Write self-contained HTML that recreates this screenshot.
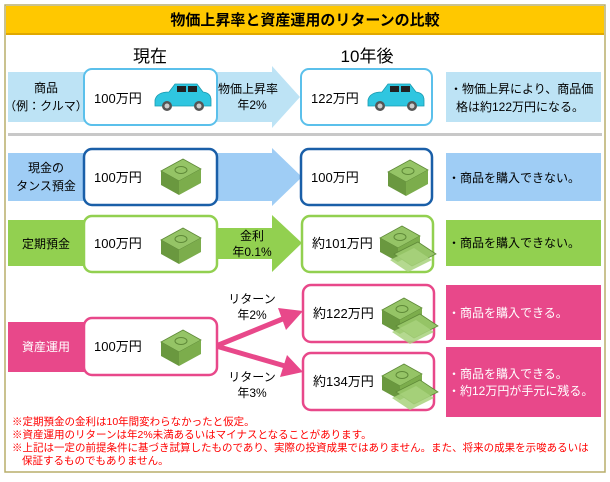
<!DOCTYPE html><html><head><meta charset="utf-8"><style>
body{margin:0;background:#fff;}
svg text{font-family:"Liberation Sans","Noto Sans CJK JP",sans-serif;}
</style></head><body>
<svg width="610" height="477" viewBox="0 0 610 477" xmlns="http://www.w3.org/2000/svg">
<defs>
<g id="money">
<polygon points="0,14 22,2 40,12 18,24" fill="#95c466" stroke="#5f8a38" stroke-width="0.8"/>
<polygon points="0,14 18,24 18,38 0,28" fill="#6a983f"/>
<polygon points="18,24 40,12 40,26 18,38" fill="#7cad4c"/>
<ellipse cx="20" cy="13" rx="6" ry="3.5" fill="none" stroke="#5f8a38"/>
</g>
<g id="money2">
<use href="#money"/>
<polygon points="14,30 38,18 56,30 32,42" fill="#95c466" stroke="#5f8a38" stroke-width="0.8"/>
<polygon points="10,36 34,24 52,36 28,48" fill="#a8d27c" opacity="0.85"/>
</g>
<g id="car">
<path d="M2,16 Q4,8 16,8 L22,0 L44,0 L50,8 Q58,9 58,16 L58,22 L2,22 Z" fill="#2fc6e0" stroke="#1a9ab0" stroke-width="0.8"/>
<rect x="24" y="2" width="9" height="6" fill="#222"/><rect x="35" y="2" width="9" height="6" fill="#222"/>
<circle cx="14" cy="22" r="5" fill="#555"/><circle cx="14" cy="22" r="2.5" fill="#ccc"/>
<circle cx="46" cy="22" r="5" fill="#555"/><circle cx="46" cy="22" r="2.5" fill="#ccc"/>
</g>
</defs>
<rect x="5" y="5" width="600" height="467" fill="#fff" stroke="#b8ad6a" stroke-width="1.5"/>
<rect x="6" y="6" width="598" height="28" fill="#ffc800"/>
<rect x="6" y="33" width="598" height="2" fill="#e0a800"/>
<text x="305" y="25" font-size="15" font-weight="bold" text-anchor="middle">物価上昇率と資産運用のリターンの比較</text>
<text x="150" y="62" font-size="17" text-anchor="middle">現在</text>
<text x="367" y="62" font-size="17" text-anchor="middle">10年後</text>

<rect x="8" y="72" width="78" height="50" fill="#bde3f5"/>
<text x="46" y="92" font-size="12" text-anchor="middle">商品</text>
<text x="46" y="110" font-size="12" text-anchor="middle">（例：クルマ）</text>
<polygon points="216,72 272,72 272,66 300,97 272,128 272,122 216,122" fill="#bde3f5"/>
<text x="248" y="93" font-size="12" text-anchor="middle">物価上昇率</text>
<text x="252" y="109" font-size="12" text-anchor="middle">年2%</text>
<rect x="84" y="69" width="133" height="56" rx="8" fill="#fff" stroke="#5bc0eb" stroke-width="2"/>
<text x="94" y="103" font-size="13">100万円</text>
<use href="#car" x="153" y="84"/>
<rect x="301" y="69" width="131" height="56" rx="8" fill="#fff" stroke="#5bc0eb" stroke-width="2"/>
<text x="311" y="103" font-size="13">122万円</text>
<use href="#car" x="366" y="84"/>
<rect x="446" y="72" width="155" height="50" fill="#bde3f5"/>
<text x="450" y="93" font-size="12">・物価上昇により、商品価</text>
<text x="456" y="111" font-size="12">格は約122万円になる。</text>
<rect x="8" y="133" width="594" height="3" fill="#c8c8c8"/>

<rect x="8" y="153" width="78" height="48" fill="#9fcdf5"/>
<text x="46" y="172" font-size="12" text-anchor="middle">現金の</text>
<text x="46" y="190" font-size="12" text-anchor="middle">タンス預金</text>
<polygon points="216,153 272,153 272,148 302,177 272,206 272,201 216,201" fill="#9fcdf5"/>
<rect x="84" y="149" width="133" height="56" rx="8" fill="#fff" stroke="#1a5fa8" stroke-width="2.5"/>
<text x="94" y="182" font-size="13">100万円</text>
<use href="#money" x="161" y="157"/>
<rect x="301" y="149" width="131" height="56" rx="8" fill="#fff" stroke="#1a5fa8" stroke-width="2.5"/>
<text x="311" y="182" font-size="13">100万円</text>
<use href="#money" x="388" y="158"/>
<rect x="446" y="153" width="155" height="48" fill="#9fcdf5"/>
<text x="448" y="182" font-size="12">・商品を購入できない。</text>

<rect x="8" y="220" width="78" height="46" fill="#92d050"/>
<text x="46" y="248" font-size="12" text-anchor="middle">定期預金</text>
<polygon points="216,228 272,228 272,215 302,243 272,272 272,259 216,259" fill="#92d050"/>
<text x="252" y="240" font-size="12" text-anchor="middle">金利</text>
<text x="252" y="256" font-size="12" text-anchor="middle">年0.1%</text>
<rect x="84" y="216" width="133" height="56" rx="8" fill="#fff" stroke="#92d050" stroke-width="2.5"/>
<text x="94" y="248" font-size="13">100万円</text>
<use href="#money" x="161" y="226"/>
<rect x="302" y="216" width="131" height="56" rx="8" fill="#fff" stroke="#92d050" stroke-width="2.5"/>
<text x="312" y="248" font-size="13">約101万円</text>
<use href="#money2" x="380" y="224"/>
<rect x="446" y="220" width="155" height="46" fill="#92d050"/>
<text x="448" y="247" font-size="12">・商品を購入できない。</text>

<rect x="8" y="322" width="78" height="50" fill="#e8488a"/>
<text x="46" y="351" font-size="12" fill="#fff" text-anchor="middle">資産運用</text>
<line x1="216" y1="346" x2="285" y2="318" stroke="#e8488a" stroke-width="5"/>
<polygon points="303,311 278,308 286,330" fill="#e8488a"/>
<line x1="216" y1="346" x2="285" y2="366" stroke="#e8488a" stroke-width="5"/>
<polygon points="303,372 287,355 280,377" fill="#e8488a"/>
<text x="252" y="303" font-size="12" text-anchor="middle">リターン</text>
<text x="252" y="319" font-size="12" text-anchor="middle">年2%</text>
<text x="252" y="381" font-size="12" text-anchor="middle">リターン</text>
<text x="252" y="397" font-size="12" text-anchor="middle">年3%</text>
<rect x="84" y="318" width="133" height="57" rx="8" fill="#fff" stroke="#e8488a" stroke-width="2.5"/>
<text x="94" y="351" font-size="13">100万円</text>
<use href="#money" x="161" y="328"/>
<rect x="303" y="285" width="131" height="57" rx="8" fill="#fff" stroke="#e8488a" stroke-width="2.5"/>
<text x="313" y="318" font-size="13">約122万円</text>
<rect x="303" y="353" width="131" height="57" rx="8" fill="#fff" stroke="#e8488a" stroke-width="2.5"/>
<text x="313" y="386" font-size="13">約134万円</text>
<rect x="446" y="285" width="155" height="55" fill="#e8488a"/>
<text x="448" y="317" font-size="12" fill="#fff">・商品を購入できる。</text>
<rect x="446" y="347" width="155" height="70" fill="#e8488a"/>
<text x="448" y="378" font-size="12" fill="#fff">・商品を購入できる。</text>
<text x="448" y="395" font-size="12" fill="#fff">・約12万円が手元に残る。</text>
<use href="#money2" x="382" y="296"/>
<use href="#money2" x="382" y="362"/>

<g font-size="10.5" fill="#ff0000">
<text x="12" y="425">※定期預金の金利は10年間変わらなかったと仮定。</text>
<text x="12" y="438">※資産運用のリターンは年2%未満あるいはマイナスとなることがあります。</text>
<text x="12" y="451">※上記は一定の前提条件に基づき試算したものであり、実際の投資成果ではありません。また、将来の成果を示唆あるいは</text>
<text x="22" y="464">保証するものでもありません。</text>
</g>
</svg>
</body></html>
